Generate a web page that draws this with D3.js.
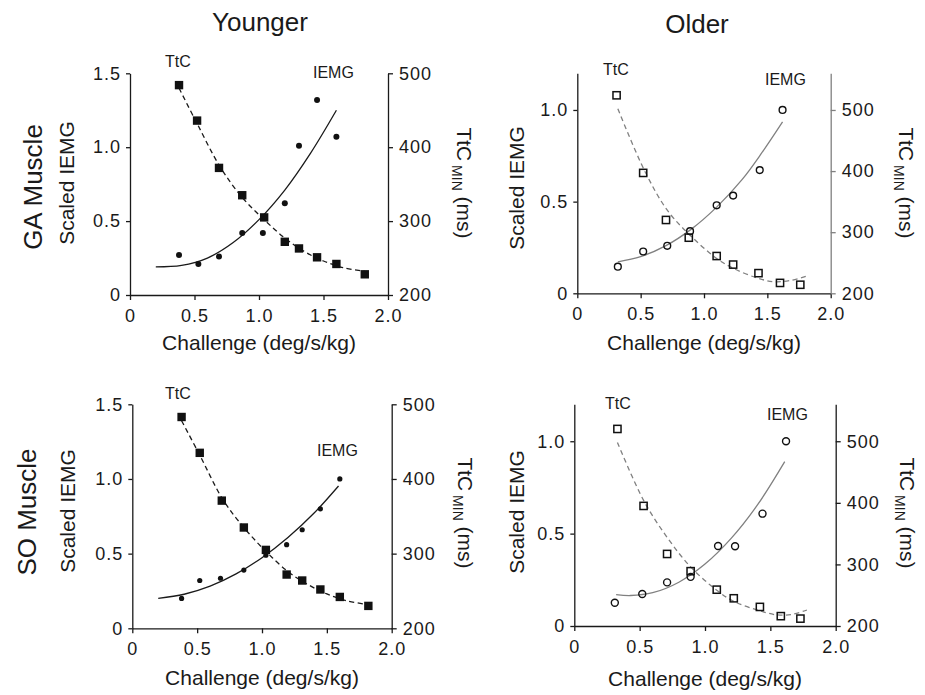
<!DOCTYPE html>
<html>
<head>
<meta charset="utf-8">
<script src="https://cdn.jsdelivr.net/npm/d3@7"></script>
<style>
  html, body { margin: 0; padding: 0; background: #fff; }
  svg { display: block; }
  text { font-family: "Liberation Sans", Arial, Helvetica, sans-serif; fill: #1a1a1a; }
</style>
</head>
<body>
<svg id="chart" width="925" height="695"></svg>
<script>
// ---- tick labels ----
const xTickValues = [0, 0.5, 1, 1.5, 2];
const xTickLabels = ['0', '0.5', '1.0', '1.5', '2.0'];
const iemgTicksYoung = [0, 0.5, 1, 1.5];
const iemgLabelsYoung = ['0', '0.5', '1.0', '1.5'];
const iemgTicksOld = [0, 0.5, 1];
const iemgLabelsOld = ['0', '0.5', '1.0'];
const ttcTicks = [200, 300, 400, 500];

// ---- Younger, GA muscle ----
const youngGaIemgX = [0.38, 0.53, 0.69, 0.87, 1.03, 1.2, 1.31, 1.45, 1.6];
const youngGaIemg = [0.27, 0.21, 0.26, 0.42, 0.42, 0.62, 1.01, 1.32, 1.07];
const youngGaTtcX = [0.38, 0.52, 0.69, 0.87, 1.04, 1.2, 1.31, 1.45, 1.6, 1.82];
const youngGaTtc = [484, 436, 372, 335, 305, 272, 263, 251, 242, 228];
const youngGaIemgFitX = [0.2, 0.4, 0.6, 0.8, 1.0, 1.2, 1.4, 1.6];
const youngGaIemgFit = [0.19, 0.2, 0.25, 0.355, 0.51, 0.71, 0.96, 1.25];
const youngGaTtcFitX = [0.38, 0.52, 0.7, 0.87, 1.04, 1.2, 1.35, 1.5, 1.65, 1.82];
const youngGaTtcFit = [480, 432, 373, 332, 302, 277, 259, 246, 237, 232];

// ---- Older, GA muscle ----
const oldGaIemgX = [0.32, 0.52, 0.71, 0.89, 1.1, 1.23, 1.44, 1.62];
const oldGaIemg = [0.145, 0.228, 0.259, 0.339, 0.48, 0.533, 0.672, 1.0];
const oldGaTtcX = [0.31, 0.52, 0.7, 0.88, 1.1, 1.23, 1.43, 1.6, 1.76];
const oldGaTtc = [524, 397, 320, 291, 261, 247, 233, 217, 214];
const oldGaIemgFitX = [0.32, 0.5, 0.7, 0.9, 1.1, 1.3, 1.45, 1.62];
const oldGaIemgFit = [0.172, 0.2, 0.26, 0.35, 0.47, 0.62, 0.76, 0.935];
const oldGaTtcFitX = [0.32, 0.53, 0.71, 0.89, 1.1, 1.23, 1.42, 1.55, 1.68, 1.81];
const oldGaTtcFit = [502, 401, 336, 295, 257, 241, 225, 219, 221, 228];

// ---- Younger, SO muscle ----
const youngSoIemgX = [0.38, 0.52, 0.68, 0.86, 1.03, 1.19, 1.31, 1.45, 1.6];
const youngSoIemg = [0.2, 0.32, 0.335, 0.39, 0.49, 0.56, 0.66, 0.8, 1.0];
const youngSoTtcX = [0.38, 0.52, 0.69, 0.86, 1.03, 1.19, 1.31, 1.45, 1.6, 1.82];
const youngSoTtc = [483, 435, 371, 335, 305, 272, 264, 252, 242, 230];
const youngSoIemgFitX = [0.2, 0.4, 0.6, 0.8, 1.0, 1.2, 1.4, 1.59];
const youngSoIemgFit = [0.2, 0.228, 0.282, 0.364, 0.473, 0.608, 0.77, 0.953];
const youngSoTtcFitX = [0.38, 0.52, 0.7, 0.87, 1.03, 1.2, 1.35, 1.5, 1.65, 1.81];
const youngSoTtcFit = [478, 432, 372, 333, 303, 276, 259, 246, 237, 232];

// ---- Older, SO muscle ----
const oldSoIemgX = [0.31, 0.52, 0.71, 0.89, 1.1, 1.23, 1.44, 1.62];
const oldSoIemg = [0.126, 0.173, 0.236, 0.266, 0.433, 0.432, 0.608, 1.0];
const oldSoTtcX = [0.33, 0.53, 0.71, 0.89, 1.09, 1.22, 1.42, 1.58, 1.73];
const oldSoTtc = [520, 395, 317, 289, 259, 245, 231, 216, 212];
const oldSoIemgFitX = [0.32, 0.43, 0.6, 0.8, 1.0, 1.2, 1.4, 1.61];
const oldSoIemgFit = [0.17, 0.165, 0.18, 0.237, 0.335, 0.474, 0.654, 0.89];
const oldSoTtcFitX = [0.33, 0.53, 0.71, 0.89, 1.09, 1.22, 1.4, 1.55, 1.67, 1.78];
const oldSoTtcFit = [498, 404, 344, 296, 258, 240, 226, 218, 219, 226];

const zip = (xs, ys) => xs.map((x, i) => [x, ys[i]]);

// panel layout (pixel boxes)
const panels = [
  {
    x0: 130, x1: 388, yTop: 73.3, yBot: 295, iemgMax: 1.5, ttcMax: 500,
    iemgTicks: iemgTicksYoung, iemgLabels: iemgLabelsYoung, old: false,
    iemg: zip(youngGaIemgX, youngGaIemg), ttc: zip(youngGaTtcX, youngGaTtc),
    iemgFit: zip(youngGaIemgFitX, youngGaIemgFit), ttcFit: zip(youngGaTtcFitX, youngGaTtcFit),
    dotR: 3, rightAxisColor: '#1a1a1a',
    leftLabel: [74, 183], rightLabel: [457, 183], xLabelY: 350,
    ttcText: [165, 67], iemgText: [313, 78],
  },
  {
    x0: 577.3, x1: 830.7, yTop: 73.3, yBot: 293.3, iemgMax: 1.2, ttcMax: 560,
    iemgTicks: iemgTicksOld, iemgLabels: iemgLabelsOld, old: true,
    iemg: zip(oldGaIemgX, oldGaIemg), ttc: zip(oldGaTtcX, oldGaTtc),
    iemgFit: zip(oldGaIemgFitX, oldGaIemgFit), ttcFit: zip(oldGaTtcFitX, oldGaTtcFit),
    dotR: 3.4, rightAxisColor: '#808080',
    leftLabel: [524, 188], rightLabel: [899, 183], xLabelY: 350,
    ttcText: [603, 75], iemgText: [765, 85],
  },
  {
    x0: 132.3, x1: 391.7, yTop: 404.3, yBot: 628.3, iemgMax: 1.5, ttcMax: 500,
    iemgTicks: iemgTicksYoung, iemgLabels: iemgLabelsYoung, old: false,
    iemg: zip(youngSoIemgX, youngSoIemg), ttc: zip(youngSoTtcX, youngSoTtc),
    iemgFit: zip(youngSoIemgFitX, youngSoIemgFit), ttcFit: zip(youngSoTtcFitX, youngSoTtcFit),
    dotR: 2.6, rightAxisColor: '#1a1a1a',
    leftLabel: [75, 511], rightLabel: [458, 513], xLabelY: 685,
    ttcText: [165, 399], iemgText: [317, 456],
  },
  {
    x0: 574.3, x1: 835.7, yTop: 404.3, yBot: 626, iemgMax: 1.2, ttcMax: 560,
    iemgTicks: iemgTicksOld, iemgLabels: iemgLabelsOld, old: true,
    iemg: zip(oldSoIemgX, oldSoIemg), ttc: zip(oldSoTtcX, oldSoTtc),
    iemgFit: zip(oldSoIemgFitX, oldSoIemgFit), ttcFit: zip(oldSoTtcFitX, oldSoTtcFit),
    dotR: 3.5, rightAxisColor: '#1a1a1a',
    leftLabel: [524, 512], rightLabel: [900, 513], xLabelY: 686,
    ttcText: [605, 409], iemgText: [767, 420],
  },
];

const svg = d3.select('#chart');

// column titles and row labels
svg.append('text').attr('x', 260).attr('y', 31).attr('text-anchor', 'middle')
  .style('font-size', '26px').text('Younger');
svg.append('text').attr('x', 697).attr('y', 33).attr('text-anchor', 'middle')
  .style('font-size', '26px').text('Older');
svg.append('text').attr('transform', 'translate(42,187) rotate(-90)').attr('text-anchor', 'middle')
  .style('font-size', '26px').text('GA Muscle');
svg.append('text').attr('transform', 'translate(36,512) rotate(-90)').attr('text-anchor', 'middle')
  .style('font-size', '26px').text('SO Muscle');

function styleAxis(g, color) {
  g.select('.domain').attr('stroke', color).attr('stroke-width', 1.3);
  g.selectAll('.tick line').attr('stroke', color).attr('stroke-width', 1.3);
  g.selectAll('.tick text')
    .style('font-size', '18px')
    .style('letter-spacing', '1px')
    .attr('fill', '#1a1a1a');
}

panels.forEach((p) => {
  const x = d3.scaleLinear().domain([0, 2]).range([p.x0, p.x1]);
  const yL = d3.scaleLinear().domain([0, p.iemgMax]).range([p.yBot, p.yTop]);
  const yR = d3.scaleLinear().domain([200, p.ttcMax]).range([p.yBot, p.yTop]);
  const g = svg.append('g');
  const lineColor = p.old ? '#808080' : '#1a1a1a';

  // axes
  const bottom = g.append('g').attr('transform', `translate(0,${p.yBot})`)
    .call(d3.axisBottom(x).tickValues(xTickValues).tickFormat((d, i) => xTickLabels[i])
      .tickSize(5).tickSizeOuter(0).tickPadding(9));
  styleAxis(bottom, '#1a1a1a');

  const left = g.append('g').attr('transform', `translate(${p.x0},0)`)
    .call(d3.axisLeft(yL).tickValues(p.iemgTicks).tickFormat((d, i) => p.iemgLabels[i])
      .tickSize(4).tickSizeOuter(0).tickPadding(5));
  styleAxis(left, '#1a1a1a');

  const right = g.append('g').attr('transform', `translate(${p.x1},0)`)
    .call(d3.axisRight(yR).tickValues(ttcTicks).tickSize(5).tickSizeOuter(0).tickPadding(6));
  styleAxis(right, p.rightAxisColor);

  // fitted curves
  const line = (sy) => d3.line().x((d) => x(d[0])).y((d) => sy(d[1]))
    .curve(d3.curveCatmullRom.alpha(0.5));

  g.append('path').datum(p.iemgFit).attr('d', line(yL))
    .attr('fill', 'none').attr('stroke', lineColor).attr('stroke-width', 1.3);
  g.append('path').datum(p.ttcFit).attr('d', line(yR))
    .attr('fill', 'none').attr('stroke', lineColor).attr('stroke-width', 1.3)
    .attr('stroke-dasharray', '5,3.5');

  // markers
  const sq = p.old ? 7.2 : 8.4;
  g.selectAll('rect.ttc').data(p.ttc).join('rect').attr('class', 'ttc')
    .attr('x', (d) => x(d[0]) - sq / 2).attr('y', (d) => yR(d[1]) - sq / 2)
    .attr('width', sq).attr('height', sq)
    .attr('fill', p.old ? 'none' : '#111')
    .attr('stroke', '#111').attr('stroke-width', p.old ? 1.5 : 0);

  g.selectAll('circle.iemg').data(p.iemg).join('circle').attr('class', 'iemg')
    .attr('cx', (d) => x(d[0])).attr('cy', (d) => yL(d[1]))
    .attr('r', p.dotR)
    .attr('fill', p.old ? 'none' : '#111')
    .attr('stroke', '#111').attr('stroke-width', p.old ? 1.4 : 0);

  // labels
  g.append('text').attr('x', p.ttcText[0]).attr('y', p.ttcText[1])
    .style('font-size', '16px').text('TtC');
  g.append('text').attr('x', p.iemgText[0]).attr('y', p.iemgText[1])
    .style('font-size', '16px').text('IEMG');

  g.append('text').attr('x', (p.x0 + p.x1) / 2).attr('y', p.xLabelY)
    .attr('text-anchor', 'middle').style('font-size', '21px').text('Challenge (deg/s/kg)');

  g.append('text')
    .attr('transform', `translate(${p.leftLabel[0]},${p.leftLabel[1]}) rotate(-90)`)
    .attr('text-anchor', 'middle').style('font-size', '21px').text('Scaled IEMG');

  const rl = g.append('text')
    .attr('transform', `translate(${p.rightLabel[0]},${p.rightLabel[1]}) rotate(90)`)
    .attr('text-anchor', 'middle').style('font-size', '21px');
  rl.append('tspan').text('TtC');
  rl.append('tspan').attr('dy', 5).style('font-size', '14px').text(' MIN');
  rl.append('tspan').attr('dy', -5).text(' (ms)');
});
</script>
</body>
</html>
